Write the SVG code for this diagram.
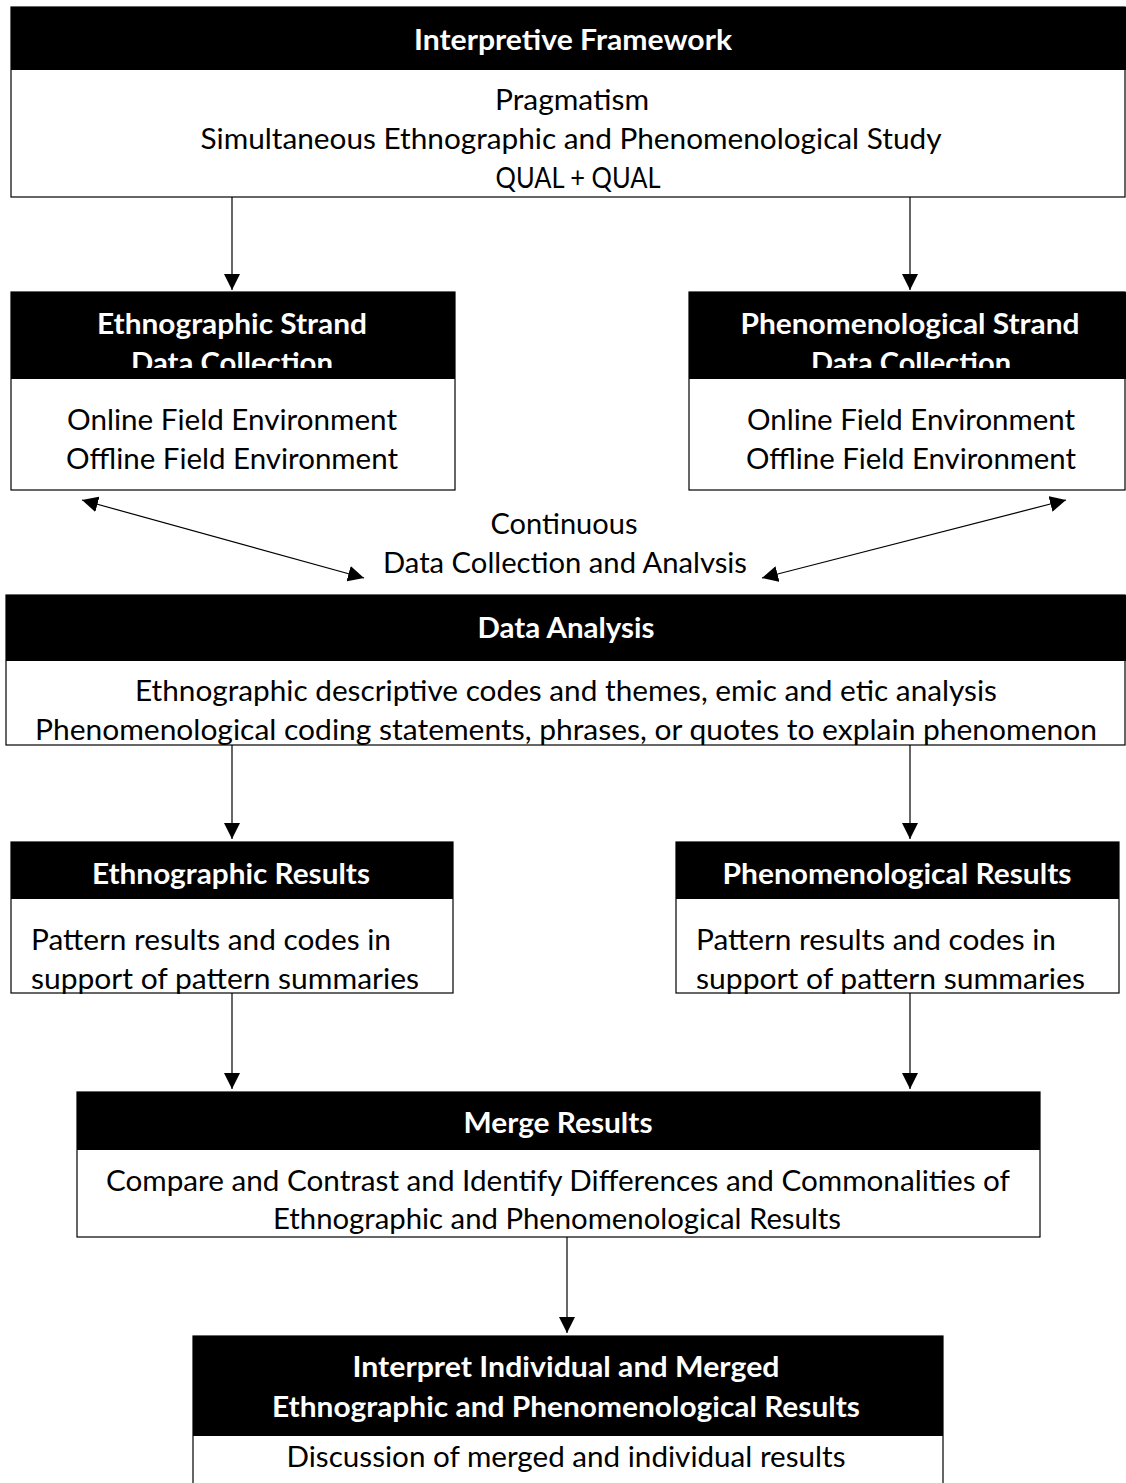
<svg xmlns="http://www.w3.org/2000/svg" width="1126" height="1483" viewBox="0 0 1126 1483">
<style>
.hd{fill:#000;}
.bd{fill:#fff;stroke:#000;stroke-width:1.2;}
.ht{font-family:Lato,"Liberation Sans",sans-serif;font-weight:bold;font-size:29px;fill:#fff;text-anchor:middle;}
.tx{font-family:Lato,"Liberation Sans",sans-serif;font-size:29px;fill:#000;text-anchor:middle;}
.tl{font-family:Lato,"Liberation Sans",sans-serif;font-size:29px;fill:#000;}
.cn{stroke:#000;stroke-width:1.2;fill:none;}
</style>
<defs>
<marker id="ah" markerWidth="16" markerHeight="16" refX="16" refY="8" orient="auto-start-reverse" markerUnits="userSpaceOnUse">
<path d="M0,0 L16,8 L0,16 Z" fill="#000"/>
</marker>
<clipPath id="c1"><rect x="11" y="292" width="444" height="76"/></clipPath>
<clipPath id="c2"><rect x="689" y="292" width="437" height="76"/></clipPath>
<clipPath id="c3"><rect x="300" y="500" width="520" height="73"/></clipPath>
</defs>

<g id="interpretive-framework">
<rect class="bd" x="11" y="7" width="1114" height="190"/>
<rect class="hd" x="11" y="7" width="1115" height="63"/>
<text class="ht" x="573" y="50" textLength="318" lengthAdjust="spacingAndGlyphs">Interpretive Framework</text>
<text class="tx" x="572" y="110" textLength="154" lengthAdjust="spacingAndGlyphs">Pragmatism</text>
<text class="tx" x="571" y="149" textLength="741" lengthAdjust="spacingAndGlyphs">Simultaneous Ethnographic and Phenomenological Study</text>
<text class="tx" x="578" y="188" textLength="165" lengthAdjust="spacingAndGlyphs">QUAL + QUAL</text>
</g>

<g id="ethnographic-strand">
<rect class="bd" x="11" y="292" width="444" height="198"/>
<rect class="hd" x="11" y="292" width="444" height="87"/>
<g clip-path="url(#c1)">
<text class="ht" x="232" y="334" textLength="270" lengthAdjust="spacingAndGlyphs">Ethnographic Strand</text>
<text class="ht" x="232" y="373" textLength="202" lengthAdjust="spacingAndGlyphs">Data Collection</text>
</g>
<text class="tx" x="232" y="430" textLength="330" lengthAdjust="spacingAndGlyphs">Online Field Environment</text>
<text class="tx" x="232" y="469" textLength="332" lengthAdjust="spacingAndGlyphs">Offline Field Environment</text>
</g>

<g id="phenomenological-strand">
<rect class="bd" x="689" y="292" width="436" height="198"/>
<rect class="hd" x="689" y="292" width="437" height="87"/>
<g clip-path="url(#c2)">
<text class="ht" x="910" y="334" textLength="339" lengthAdjust="spacingAndGlyphs">Phenomenological Strand</text>
<text class="ht" x="911" y="373" textLength="200" lengthAdjust="spacingAndGlyphs">Data Collection</text>
</g>
<text class="tx" x="911" y="430" textLength="328" lengthAdjust="spacingAndGlyphs">Online Field Environment</text>
<text class="tx" x="911" y="469" textLength="330" lengthAdjust="spacingAndGlyphs">Offline Field Environment</text>
</g>

<g id="continuous-label" clip-path="url(#c3)">
<text class="tx" x="564" y="534" textLength="147" lengthAdjust="spacingAndGlyphs">Continuous</text>
<text class="tx" x="565" y="573" textLength="364" lengthAdjust="spacingAndGlyphs">Data Collection and Analysis</text>
</g>

<g id="data-analysis">
<rect class="bd" x="6" y="595" width="1119" height="150"/>
<rect class="hd" x="6" y="595" width="1120" height="66"/>
<text class="ht" x="566" y="638" textLength="177" lengthAdjust="spacingAndGlyphs">Data Analysis</text>
<text class="tx" x="566" y="701" textLength="862" lengthAdjust="spacingAndGlyphs">Ethnographic descriptive codes and themes, emic and etic analysis</text>
<text class="tx" x="566" y="740" textLength="1062" lengthAdjust="spacingAndGlyphs">Phenomenological coding statements, phrases, or quotes to explain phenomenon</text>
</g>

<g id="ethnographic-results">
<rect class="bd" x="11" y="842" width="442" height="151"/>
<rect class="hd" x="11" y="842" width="442" height="57"/>
<text class="ht" x="231" y="884" textLength="278" lengthAdjust="spacingAndGlyphs">Ethnographic Results</text>
<text class="tl" x="31" y="950" textLength="360" lengthAdjust="spacingAndGlyphs">Pattern results and codes in</text>
<text class="tl" x="31" y="989" textLength="388" lengthAdjust="spacingAndGlyphs">support of pattern summaries</text>
</g>

<g id="phenomenological-results">
<rect class="bd" x="676" y="842" width="443" height="151"/>
<rect class="hd" x="676" y="842" width="443" height="57"/>
<text class="ht" x="897" y="884" textLength="349" lengthAdjust="spacingAndGlyphs">Phenomenological Results</text>
<text class="tl" x="696" y="950" textLength="360" lengthAdjust="spacingAndGlyphs">Pattern results and codes in</text>
<text class="tl" x="696" y="989" textLength="389" lengthAdjust="spacingAndGlyphs">support of pattern summaries</text>
</g>

<g id="merge-results">
<rect class="bd" x="77" y="1092" width="963" height="145"/>
<rect class="hd" x="77" y="1092" width="963" height="58"/>
<text class="ht" x="558" y="1133" textLength="189" lengthAdjust="spacingAndGlyphs">Merge Results</text>
<text class="tx" x="558" y="1191" textLength="904" lengthAdjust="spacingAndGlyphs">Compare and Contrast and Identify Differences and Commonalities of</text>
<text class="tx" x="557" y="1229" textLength="568" lengthAdjust="spacingAndGlyphs">Ethnographic and Phenomenological Results</text>
</g>

<g id="interpret-results">
<rect class="bd" x="193" y="1336" width="750" height="160"/>
<rect class="hd" x="193" y="1336" width="750" height="100"/>
<text class="ht" x="566" y="1377" textLength="427" lengthAdjust="spacingAndGlyphs">Interpret Individual and Merged</text>
<text class="ht" x="566" y="1417" textLength="588" lengthAdjust="spacingAndGlyphs">Ethnographic and Phenomenological Results</text>
<text class="tx" x="566" y="1467" textLength="559" lengthAdjust="spacingAndGlyphs">Discussion of merged and individual results</text>
</g>

<g id="connectors">
<line class="cn" x1="232" y1="197" x2="232" y2="290" marker-end="url(#ah)"/>
<line class="cn" x1="910" y1="197" x2="910" y2="290" marker-end="url(#ah)"/>
<line class="cn" x1="82" y1="500" x2="364" y2="578" marker-start="url(#ah)" marker-end="url(#ah)"/>
<line class="cn" x1="1066" y1="500" x2="762" y2="578" marker-start="url(#ah)" marker-end="url(#ah)"/>
<line class="cn" x1="232" y1="745" x2="232" y2="839" marker-end="url(#ah)"/>
<line class="cn" x1="910" y1="745" x2="910" y2="839" marker-end="url(#ah)"/>
<line class="cn" x1="232" y1="993" x2="232" y2="1089" marker-end="url(#ah)"/>
<line class="cn" x1="910" y1="993" x2="910" y2="1089" marker-end="url(#ah)"/>
<line class="cn" x1="567" y1="1237" x2="567" y2="1333" marker-end="url(#ah)"/>
</g>
</svg>
